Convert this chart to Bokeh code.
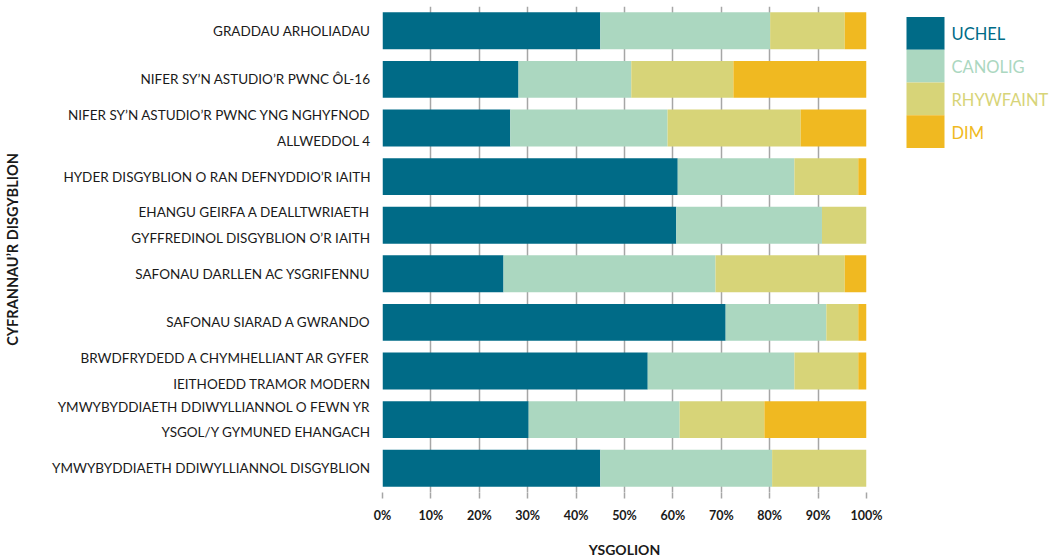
from bokeh.plotting import figure
from bokeh.models import Range1d, FactorRange, FixedTicker, PrintfTickFormatter, ColumnDataSource
from bokeh.layouts import row
from bokeh.core.properties import value
from bokeh.embed import file_html
from bokeh.resources import INLINE

categories = [
    "GRADDAU ARHOLIADAU",
    "NIFER SY’N ASTUDIO’R PWNC ÔL-16",
    "NIFER SY’N ASTUDIO’R PWNC YNG NGHYFNOD\nALLWEDDOL 4",
    "HYDER DISGYBLION O RAN DEFNYDDIO’R IAITH",
    "EHANGU GEIRFA A DEALLTWRIAETH\nGYFFREDINOL DISGYBLION O’R IAITH",
    "SAFONAU DARLLEN AC YSGRIFENNU",
    "SAFONAU SIARAD A GWRANDO",
    "BRWDFRYDEDD A CHYMHELLIANT AR GYFER\nIEITHOEDD TRAMOR MODERN",
    "YMWYBYDDIAETH DDIWYLLIANNOL O FEWN YR\nYSGOL/Y GYMUNED EHANGACH",
    "YMWYBYDDIAETH DDIWYLLIANNOL DISGYBLION",
]
uchel = [45.0, 28.1, 26.4, 61.0, 60.7, 25.0, 70.9, 54.8, 30.2, 45.0]
canolig = [35.1, 23.3, 32.5, 24.1, 30.1, 43.8, 20.8, 30.3, 31.2, 35.5]
rhywfaint = [15.4, 21.1, 27.5, 13.2, 9.2, 26.7, 6.6, 13.2, 17.5, 19.5]
dim = [4.5, 27.5, 13.6, 1.7, 0.0, 4.5, 1.7, 1.7, 21.1, 0.0]
series_keys = ["uchel", "canolig", "rhywfaint", "dim"]
series_labels = ["UCHEL", "CANOLIG", "RHYWFAINT", "DIM"]
series_colors = ["#006B87", "#ABD7C0", "#D7D478", "#F0B921"]
x_ticks = list(range(0, 101, 10))
x_title = "YSGOLION"
y_title = "CYFRANNAU’R DISGYBLION"

FONT = "Lato"

source = ColumnDataSource(dict(cat=categories, uchel=uchel, canolig=canolig,
                               rhywfaint=rhywfaint, dim=dim))

p = figure(width=890, height=560, output_backend="svg", toolbar_location=None,
           x_range=Range1d(0, 100),
           y_range=FactorRange(factors=list(reversed(categories)), range_padding=0),
           min_border_left=382, min_border_right=24, min_border_top=6,
           min_border_bottom=65)
p.hbar_stack(series_keys, y="cat", height=0.76, color=series_colors,
             line_color=None, source=source)

p.outline_line_color = None
p.ygrid.grid_line_color = None
p.xgrid.grid_line_color = "#a6a6a6"
p.xgrid.grid_line_width = 1.5
p.xgrid.ticker = FixedTicker(ticks=x_ticks)

xa = p.xaxis[0]
xa.ticker = FixedTicker(ticks=x_ticks)
xa.formatter = PrintfTickFormatter(format="%d%%")
xa.axis_line_color = None
xa.major_tick_line_color = "#a6a6a6"
xa.major_tick_line_width = 1.5
xa.major_tick_out = 6
xa.major_tick_in = 0
xa.minor_tick_line_color = None
xa.major_label_standoff = 9
xa.major_label_text_font = FONT
xa.major_label_text_font_style = "bold"
xa.major_label_text_font_size = "12.5px"
xa.major_label_text_color = "#1a1a1a"
xa.axis_label = x_title
xa.axis_label_text_font = FONT
xa.axis_label_text_font_style = "bold"
xa.axis_label_text_font_size = "14px"
xa.axis_label_text_color = "#1a1a1a"
xa.axis_label_standoff = 15

ya = p.yaxis[0]
ya.axis_line_color = None
ya.major_tick_line_color = None
ya.minor_tick_line_color = None
ya.major_tick_out = 0
ya.major_label_standoff = 12
ya.major_label_text_font = FONT
ya.major_label_text_font_size = "13.5px"
ya.major_label_text_color = "#1a1a1a"
ya.major_label_text_line_height = 1.6
ya.axis_label = y_title
ya.axis_label_text_font = FONT
ya.axis_label_text_font_style = "bold"
ya.axis_label_text_font_size = "14.5px"
ya.axis_label_text_color = "#1a1a1a"
ya.axis_label_standoff = 28

# legend panel
lg = figure(width=159, height=560, output_backend="svg", toolbar_location=None,
            x_range=Range1d(0, 159), y_range=Range1d(560, 0),
            min_border=0)
lg.axis.visible = False
lg.grid.grid_line_color = None
lg.outline_line_color = None
sw_h = 37.7
ys = [31 + i * sw_h for i in range(len(series_labels))]
lg.rect(x=35, y=ys, width=38, height=sw_h, color=series_colors, line_color=None)
lg.text(x=61, y=ys, y_offset=1, text=series_labels, text_color=series_colors,
        text_font=value(FONT), text_font_size="16.5px", text_baseline="middle")

layout = row(p, lg)
open("out.html", "w").write(file_html(layout, INLINE))
